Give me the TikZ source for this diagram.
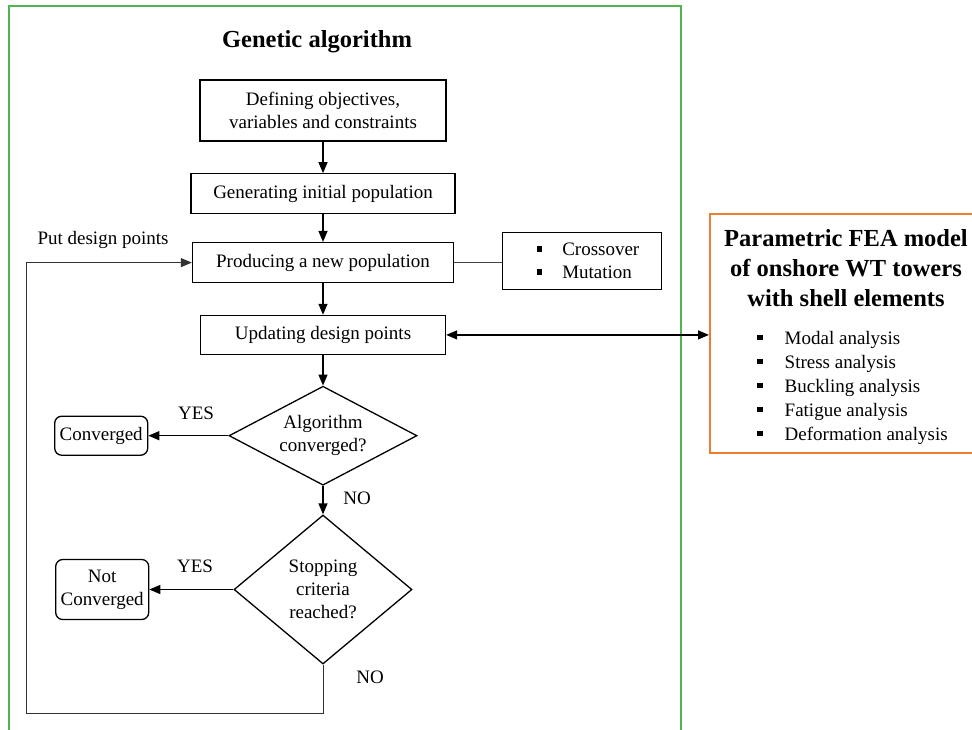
\documentclass[tikz,border=0pt]{standalone}
\usepackage{fontspec}
\setmainfont{Liberation Serif}
\usepackage{tikz}
\usetikzlibrary{positioning,arrows.meta,shapes.geometric,calc}
\definecolor{gaframe}{RGB}{80,180,80}
\definecolor{feaframe}{RGB}{237,125,49}
\newcommand{\sqbul}{\raisebox{0.22em}{\rule{5.5pt}{5.5pt}}}
\tikzset{
  blk/.style  ={rectangle, draw=black, line width=1.3pt, align=center,
                inner sep=2pt, fill=white},
  dec/.style  ={diamond, draw=black, line width=1.3pt, align=center,
                inner sep=0pt},
  endbox/.style ={rectangle, rounded corners=7pt, draw=black, line width=1.3pt,
                align=center, inner sep=2pt, minimum width=93pt},
  arr/.style  ={-{Triangle[length=11pt,width=9pt]}, line width=1.3pt},
}

\begin{document}
\begin{tikzpicture}[x=1pt, y=-1pt, font=\fontsize{19}{23}\selectfont,
  ttl/.style={font=\fontsize{24.5}{30}\selectfont\bfseries, align=center}]
  \useasboundingbox (0,0) rectangle (972,729);
  % frames
  \draw[gaframe, line width=2pt] (9,740) -- (9,6) -- (681,6) -- (681,740);
  \node[rectangle, draw=feaframe, line width=2pt, minimum width=275pt,
        minimum height=239pt] (fea) at (847.5,333.5) {};
  \node[ttl] (gat) at (317,42) {Genetic algorithm};
  \node[ttl] (feat) at (846,268) {Parametric FEA model\\of onshore WT towers\\with shell elements};
  \node[anchor=west, align=left, inner sep=0pt, font=\fontsize{19}{24}\selectfont]
        (fealist) at (757,388)
        {\sqbul\hspace{22pt}Modal analysis\\\sqbul\hspace{22pt}Stress analysis\\
         \sqbul\hspace{22pt}Buckling analysis\\\sqbul\hspace{22pt}Fatigue analysis\\
         \sqbul\hspace{22pt}Deformation analysis};

  % main chain
  \node[blk, minimum width=246pt, minimum height=61pt] (b1) at (323,110.5)
        {Defining objectives,\\variables and constraints};
  \node[blk, below=31.5pt of b1, minimum width=264pt, minimum height=40pt] (b2)
        {Generating initial population};
  \node[blk, below=27.5pt of b2, minimum width=261pt, minimum height=40pt] (b3)
        {Producing a new population};
  \node[blk, below=31.5pt of b3, minimum width=245pt, minimum height=39pt] (b4)
        {Updating design points};
  \node[dec, below=30.5pt of b4, shape aspect=1.9, minimum width=188pt,
        minimum height=99pt] (d1) {Algorithm\\converged?};
  \node[dec, below=28.5pt of d1, shape aspect=1.2, minimum width=178pt,
        minimum height=149pt] (d2) {Stopping\\criteria\\reached?};

  \node[rectangle, draw=black, line width=1.2pt, right=48pt of b3, align=left,
        inner xsep=22pt, inner ysep=4pt, minimum height=57pt, yshift=1.5pt] (ops)
        {\hspace*{12pt}\sqbul\hspace{20pt}Crossover\\\hspace*{12pt}\sqbul\hspace{20pt}Mutation};

  \node[endbox, left=80pt of d1, minimum height=39pt] (conv) {Converged};
  \node[endbox, left=84pt of d2, minimum height=60pt] (nconv) {Not\\Converged};

  % labels
  \node (lput) at (103,240) {Put design points};
  \node (lyes1) at (196,413) {YES};
  \node (lno1) at (357,498) {NO};
  \node (lyes2) at (195,566) {YES};
  \node (lno2) at (370,677) {NO};

  \coordinate (ret) at (26,713);

  \foreach \a/\b in {b1/b2,b2/b3,b3/b4,b4/d1,d1/d2}{\draw[arr] (\a) -- (\b);}
  \draw[arr] (d1.west) -- (conv.east);
  \draw[arr] (d2.west) -- (nconv.east);
  \draw[line width=0.9pt, black!75] (b3.east) -- (b3.east -| ops.west);
  \draw[{Triangle[length=11pt,width=9pt]}-{Triangle[length=11pt,width=9pt]},
        line width=1.3pt] (b4.east) -- (b4.east -| fea.west);
  \draw[-{Triangle[length=11pt,width=9pt]}, line width=1pt, black!80]
        (d2.south) |- (ret) |- (b3.west);
\end{tikzpicture}
\end{document}
